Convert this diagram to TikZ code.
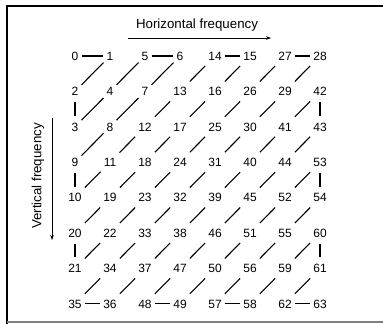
\documentclass[tikz,border=0pt]{standalone}
\usepackage{fontspec}
\setmainfont{Liberation Sans}
\usepackage{tikz}
\usetikzlibrary{arrows.meta,positioning,calc}

\begin{document}
\begin{tikzpicture}[x=1pt,y=-1pt,>=Stealth,
  num/.style={inner xsep=3pt,inner ysep=6.5pt,text height=8.5pt,text depth=0pt,font=\fontsize{12}{13}\selectfont},
  link/.style={line width=1.1pt},
  axis/.style={line width=.6pt,-{Stealth[length=5pt,width=3.5pt]}},
  lab/.style={font=\fontsize{13.3}{14}\selectfont}]
\useasboundingbox (0,0) rectangle (383,324);
% frame
\draw[line width=2.4pt] (7,324)--(7,6)--(383,6);
\draw[gray,line width=1.2pt] (7,322)--(383,322);
% axes
\node[lab] (hf) at (197,25){Horizontal frequency};
\coordinate (h0) at (128,38);\coordinate (h1) at (271,38);
\draw[axis] (h0)--(h1);
\node[lab,rotate=90] (vf) at (38,176){Vertical frequency};
\coordinate (v0) at (52,118);\coordinate (v1) at (52,240);
\draw[axis] (v0)--(v1);
% coefficients, one node per value
\foreach \row [count=\r from 0] in {{0,1,5,6,14,15,27,28},{2,4,7,13,16,26,29,42},
  {3,8,12,17,25,30,41,43},{9,11,18,24,31,40,44,53},{10,19,23,32,39,45,52,54},
  {20,22,33,38,46,51,55,60},{21,34,37,47,50,56,59,61},{35,36,48,49,57,58,62,63}}
  \foreach \v [count=\c from 0] in \row
    \node[num] (n\v) at ({75+35*\c},{56+35.4*\r}){\v};
% zigzag path
\foreach \i in {0,...,62}{
  \pgfmathtruncatemacro{\j}{\i+1}
  \draw[link] (n\i)--(n\j);
}
\end{tikzpicture}
\end{document}
